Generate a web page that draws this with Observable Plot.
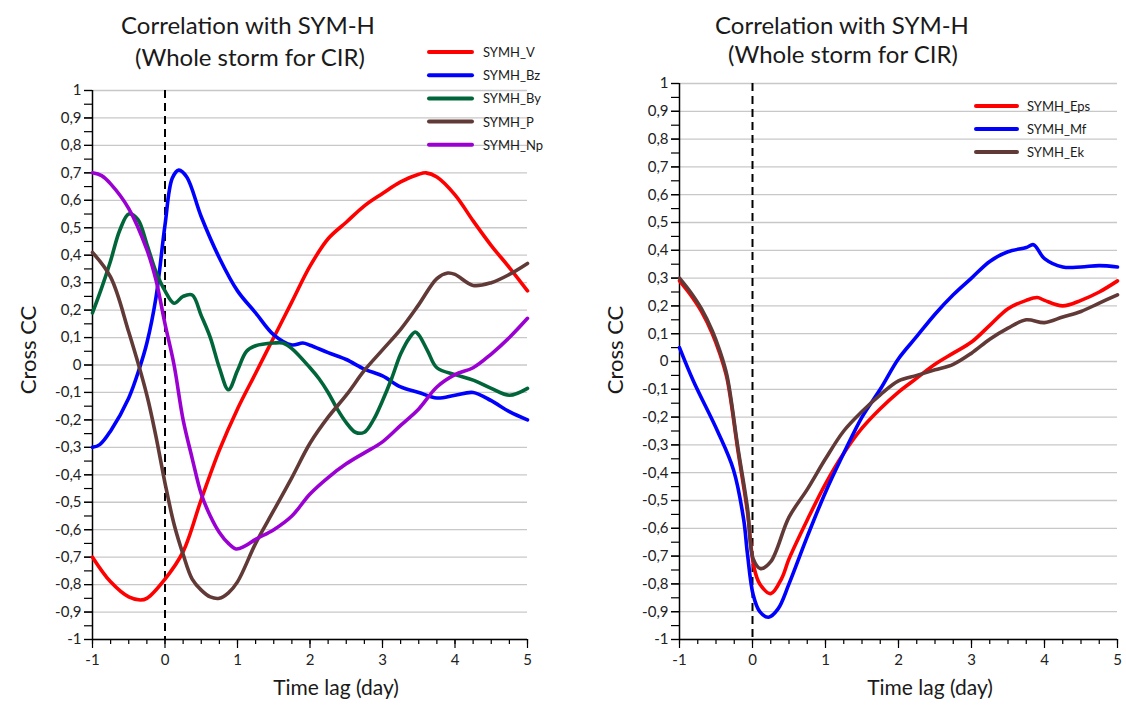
<!DOCTYPE html>
<html>
<head>
<meta charset="utf-8">
<script src="https://cdn.jsdelivr.net/npm/d3@7"></script>
<script src="https://cdn.jsdelivr.net/npm/@observablehq/plot@0.6"></script>
<style>
  html, body { margin: 0; padding: 0; background: #fff; }
  #wrap { position: relative; width: 1126px; height: 706px; overflow: hidden; font-family: Lato, "Open Sans", sans-serif; }
  #wrap > div.panel { position: absolute; top: 0; }
  #overlay { position: absolute; left: 0; top: 0; pointer-events: none; }
</style>
</head>
<body>
<div id="wrap">
  <div class="panel" id="left" style="left:0"></div>
  <div class="panel" id="right" style="left:563px"></div>
</div>
<script>
// ---------- Left panel data (time lag in days, cross correlation) ----------
const lagV  = [-1,-0.75,-0.5,-0.34,-0.25,0,0.25,0.5,0.75,1,1.25,1.5,1.75,2,2.25,2.5,2.75,3,3.25,3.5,3.6,3.75,4,4.25,4.5,4.75,5];
const ccV   = [-0.70,-0.79,-0.845,-0.856,-0.85,-0.78,-0.68,-0.49,-0.31,-0.16,-0.03,0.10,0.23,0.36,0.46,0.52,0.58,0.625,0.667,0.695,0.70,0.685,0.62,0.525,0.435,0.355,0.27];

const lagBz = [-1,-0.9,-0.75,-0.5,-0.35,-0.25,-0.125,0,0.1,0.19,0.3,0.5,0.75,1,1.25,1.5,1.75,1.9,2,2.25,2.5,2.75,3,3.25,3.5,3.75,4,4.25,4.5,4.75,5];
const ccBz  = [-0.30,-0.29,-0.24,-0.12,-0.01,0.08,0.245,0.51,0.68,0.71,0.685,0.54,0.39,0.27,0.19,0.11,0.073,0.08,0.072,0.045,0.02,-0.015,-0.04,-0.08,-0.10,-0.12,-0.11,-0.10,-0.13,-0.17,-0.20];

const lagBy = [-1,-0.875,-0.75,-0.625,-0.5,-0.375,-0.25,-0.125,0,0.125,0.25,0.375,0.5,0.625,0.75,0.875,1,1.125,1.25,1.5,1.625,1.75,2,2.125,2.25,2.375,2.5,2.625,2.75,2.875,3,3.125,3.25,3.375,3.45,3.5,3.625,3.75,4,4.25,4.5,4.75,5];
const ccBy  = [0.19,0.28,0.38,0.49,0.55,0.53,0.44,0.34,0.27,0.225,0.25,0.255,0.18,0.10,-0.01,-0.09,-0.02,0.05,0.07,0.08,0.08,0.06,-0.01,-0.05,-0.10,-0.16,-0.21,-0.245,-0.245,-0.20,-0.13,-0.05,0.04,0.10,0.12,0.11,0.05,-0.01,-0.035,-0.055,-0.085,-0.11,-0.085];

const lagP  = [-1,-0.75,-0.5,-0.25,-0.125,0,0.125,0.25,0.375,0.5,0.625,0.75,0.875,1,1.25,1.5,1.75,2,2.25,2.5,2.75,3,3.25,3.5,3.75,3.9,4,4.25,4.5,4.75,5];
const ccP   = [0.41,0.32,0.12,-0.11,-0.26,-0.43,-0.58,-0.69,-0.78,-0.82,-0.845,-0.85,-0.83,-0.79,-0.65,-0.53,-0.41,-0.285,-0.19,-0.11,-0.02,0.055,0.13,0.22,0.315,0.335,0.33,0.29,0.30,0.33,0.37];

const lagNp = [-1,-0.875,-0.75,-0.5,-0.25,-0.125,0,0.125,0.25,0.375,0.5,0.625,0.75,0.875,0.98,1.1,1.25,1.5,1.75,2,2.25,2.5,2.75,3,3.25,3.5,3.75,4,4.25,4.5,4.75,5];
const ccNp  = [0.70,0.69,0.66,0.57,0.42,0.31,0.15,0.0,-0.20,-0.34,-0.47,-0.55,-0.61,-0.65,-0.67,-0.66,-0.635,-0.60,-0.55,-0.47,-0.41,-0.36,-0.32,-0.28,-0.22,-0.16,-0.08,-0.035,-0.01,0.04,0.10,0.17];

// ---------- Right panel data ----------
const lagEps = [-1,-0.85,-0.7,-0.55,-0.45,-0.35,-0.2,-0.07,0.02,0.1,0.25,0.4,0.5,0.75,1,1.25,1.5,1.75,2,2.25,2.5,2.75,3,3.25,3.5,3.75,3.9,4,4.25,4.5,4.75,5];
const ccEps  = [0.29,0.24,0.18,0.10,0.03,-0.06,-0.32,-0.54,-0.74,-0.80,-0.835,-0.78,-0.71,-0.57,-0.44,-0.33,-0.24,-0.17,-0.11,-0.06,-0.01,0.03,0.07,0.13,0.19,0.22,0.23,0.22,0.20,0.22,0.25,0.29];

const lagMf  = [-1,-0.81,-0.48,-0.26,-0.12,-0.07,0.01,0.1,0.22,0.35,0.5,0.75,1,1.25,1.5,1.75,2,2.25,2.5,2.75,3,3.25,3.5,3.75,3.85,4,4.25,4.5,4.75,5];
const ccMf   = [0.05,-0.07,-0.25,-0.39,-0.57,-0.69,-0.84,-0.90,-0.92,-0.89,-0.80,-0.63,-0.47,-0.33,-0.20,-0.10,0.01,0.09,0.17,0.24,0.30,0.36,0.395,0.41,0.42,0.37,0.34,0.34,0.345,0.34];

const lagEk  = [-1,-0.85,-0.7,-0.55,-0.45,-0.35,-0.2,-0.07,0.01,0.11,0.25,0.5,0.75,1,1.25,1.5,1.75,2,2.25,2.5,2.75,3,3.25,3.5,3.75,4,4.25,4.5,4.75,5];
const ccEk   = [0.30,0.25,0.19,0.11,0.04,-0.05,-0.31,-0.525,-0.71,-0.745,-0.72,-0.56,-0.46,-0.35,-0.25,-0.18,-0.12,-0.07,-0.05,-0.03,-0.01,0.03,0.08,0.12,0.15,0.14,0.16,0.18,0.21,0.24];

// ---------- Series, labels, ticks ----------
const leftNames  = ["SYMH_V","SYMH_Bz","SYMH_By","SYMH_P","SYMH_Np"];
const leftColors = ["#ff0000","#0000ff","#00663a","#613a37","#9b00d3"];
const leftLags   = [lagV, lagBz, lagBy, lagP, lagNp];
const leftCCs    = [ccV, ccBz, ccBy, ccP, ccNp];

const rightNames  = ["SYMH_Eps","SYMH_Mf","SYMH_Ek"];
const rightColors = ["#ff0000","#0000ff","#613a37"];
const rightLags   = [lagEps, lagMf, lagEk];
const rightCCs    = [ccEps, ccMf, ccEk];

const titleLines = ["Correlation with SYM-H", "(Whole storm for CIR)"];
const xLabel = "Time lag (day)";
const yLabel = "Cross CC";
const xMajor = [-1,0,1,2,3,4,5];
const xMinor = d3.range(-4, 21).map(d => d / 4);
const yMajor = d3.range(-10, 11).map(d => d / 10);
const yMinor = d3.range(-20, 21).map(d => d / 20);

function table(names, lags, ccs) {
  return names.flatMap((n, k) => lags[k].map((l, i) => ({series: n, lag: l, cc: ccs[k][i]})));
}
const yFmt = d => d === 0 ? "0" : String(d).replace(".", ",");

function panel(names, colors, lags, ccs, m) {
  return Plot.plot({
    width: 563, height: 706,
    marginLeft: m.left, marginRight: m.right, marginTop: m.top, marginBottom: m.bottom,
    x: {domain: [-1, 5], axis: null},
    y: {domain: [-1, 1], axis: null},
    color: {domain: names, range: colors},
    style: {fontFamily: "Lato, 'Open Sans', sans-serif", fontSize: "15px", color: "#222", background: "transparent", overflow: "visible"},
    marks: [
      Plot.gridY({ticks: yMajor, stroke: "#c8c8c8", strokeOpacity: 1, strokeWidth: 1.3}),
      Plot.axisY({ticks: yMinor, tickSize: 8, tickFormat: () => "", label: null, stroke: "#000", strokeWidth: 1.2}),
      Plot.axisY({ticks: yMajor, tickSize: 8, tickPadding: 3, tickFormat: yFmt, label: null, fontSize: 15, stroke: "#000", strokeWidth: 1.2, fill: "#222"}),
      Plot.axisX({ticks: xMinor, tickSize: 5, tickFormat: () => "", label: null, stroke: "#000", strokeWidth: 1.2}),
      Plot.axisX({ticks: xMajor, tickSize: 9, tickPadding: 6, tickFormat: d => String(d), label: null, fontSize: 15, stroke: "#000", strokeWidth: 1.2, fill: "#222"}),
      Plot.ruleX([-1], {stroke: "#000", strokeWidth: 1.5}),
      Plot.ruleY([-1], {stroke: "#000", strokeWidth: 1.5}),
      Plot.ruleX([0], {stroke: "#000", strokeWidth: 2, strokeDasharray: "8,5"}),
      Plot.line(table(names, lags, ccs), {x: "lag", y: "cc", z: "series", stroke: "series", strokeWidth: 3.6, curve: "catmull-rom", strokeLinecap: "round", strokeLinejoin: "round"})
    ]
  });
}

document.getElementById("left").append(panel(leftNames, leftColors, leftLags, leftCCs, {left: 92, right: 36, top: 90, bottom: 67}));
document.getElementById("right").append(panel(rightNames, rightColors, rightLags, rightCCs, {left: 116, right: 9, top: 83, bottom: 67}));

// ---------- Overlay text: titles, legends, axis titles ----------
const svgNS = "http://www.w3.org/2000/svg";
const ov = document.createElementNS(svgNS, "svg");
ov.setAttribute("id", "overlay");
ov.setAttribute("width", 1126);
ov.setAttribute("height", 706);
document.getElementById("wrap").append(ov);
function txt(s, x, y, size, anchor, rotate) {
  const t = document.createElementNS(svgNS, "text");
  t.setAttribute("x", x); t.setAttribute("y", y);
  t.setAttribute("font-size", size);
  t.setAttribute("font-family", "Lato, 'Open Sans', sans-serif");
  t.setAttribute("fill", "#1a1a1a");
  t.setAttribute("text-anchor", anchor || "start");
  if (rotate) t.setAttribute("transform", `rotate(${rotate} ${x} ${y})`);
  t.textContent = s;
  ov.append(t);
}
function legendRow(color, name, x1, x2, y, tx) {
  const l = document.createElementNS(svgNS, "line");
  l.setAttribute("x1", x1); l.setAttribute("x2", x2);
  l.setAttribute("y1", y); l.setAttribute("y2", y);
  l.setAttribute("stroke", color); l.setAttribute("stroke-width", 4);
  l.setAttribute("stroke-linecap", "round");
  ov.append(l);
  txt(name, tx, y + 5, 13, "start");
}
// left
txt(titleLines[0], 248, 34, 24, "middle");
txt(titleLines[1], 250, 66, 24, "middle");
leftNames.forEach((n, i) => legendRow(leftColors[i], n, 429, 472, 52 + i * 23.2, 483));
txt(xLabel, 336, 695, 21, "middle");
txt(yLabel, 36, 350, 22, "middle", -90);
// right
txt(titleLines[0], 842, 34, 24, "middle");
txt(titleLines[1], 843, 63, 24, "middle");
rightNames.forEach((n, i) => legendRow(rightColors[i], n, 976, 1017, 106 + i * 23, 1027));
txt(xLabel, 930, 695, 21, "middle");
txt(yLabel, 623, 350, 22, "middle", -90);
</script>
</body>
</html>
